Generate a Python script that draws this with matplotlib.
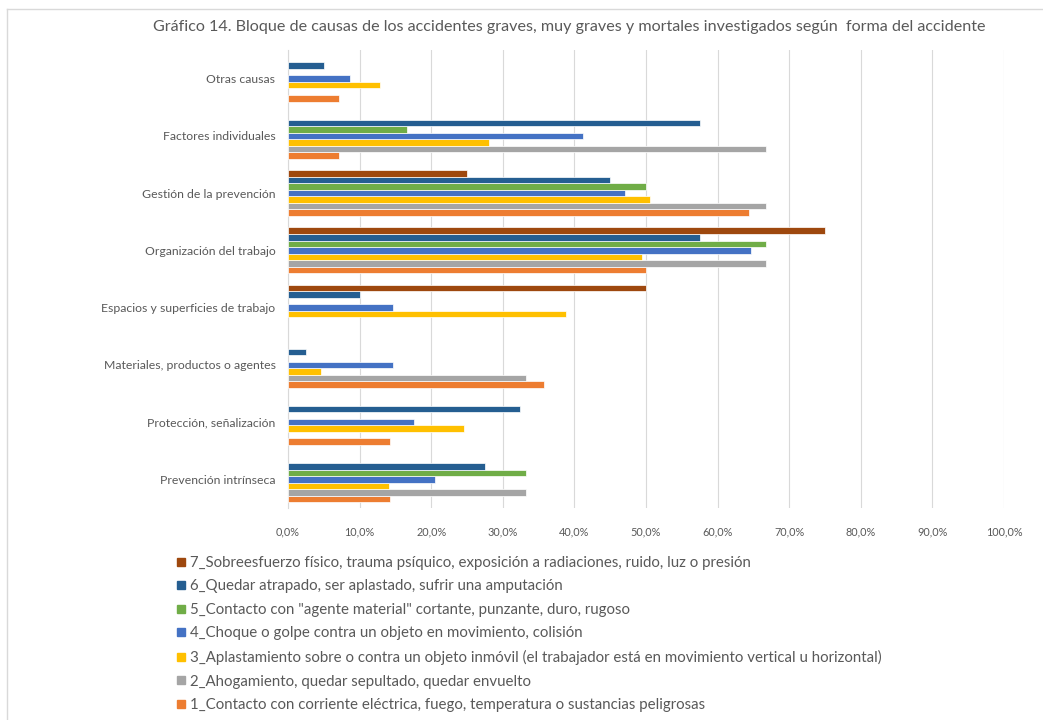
import numpy as np
import matplotlib
matplotlib.use("Agg")
import matplotlib.pyplot as plt
from matplotlib.lines import Line2D
from matplotlib.ticker import FuncFormatter

plt.rcParams['font.family'] = ['Lato', 'DejaVu Sans']

# categories, bottom to top as drawn
categorias = [
    "Prevención intrínseca",
    "Protección, señalización",
    "Materiales, productos o agentes",
    "Espacios y superficies de trabajo",
    "Organización del trabajo",
    "Gestión de la prevención",
    "Factores individuales",
    "Otras causas",
]

# percentage of accidents per block of causes, one list per accident form
forma_1 = [14.3, 14.3, 35.7, 0, 50.0, 64.4, 7.1, 7.1]
forma_2 = [33.3, 0, 33.3, 0, 66.7, 66.7, 66.7, 0]
forma_3 = [14.1, 24.6, 4.6, 38.8, 49.4, 50.6, 28.1, 12.8]
forma_4 = [20.6, 17.6, 14.7, 14.7, 64.7, 47.1, 41.2, 8.7]
forma_5 = [33.3, 0, 0, 0, 66.7, 50.0, 16.6, 0]
forma_6 = [27.5, 32.4, 2.5, 10.0, 57.5, 45.0, 57.5, 5.0]
forma_7 = [0, 0, 0, 50.0, 75.0, 25.0, 0, 0]

nombres = [
    "1_Contacto con corriente eléctrica, fuego, temperatura o sustancias peligrosas",
    "2_Ahogamiento, quedar sepultado, quedar envuelto",
    "3_Aplastamiento sobre o contra un objeto inmóvil (el trabajador está en movimiento vertical u horizontal)",
    "4_Choque o golpe contra un objeto en movimiento, colisión",
    "5_Contacto con \"agente material\" cortante, punzante, duro, rugoso",
    "6_Quedar atrapado, ser aplastado, sufrir una amputación",
    "7_Sobreesfuerzo físico, trauma psíquico, exposición a radiaciones, ruido, luz o presión",
]
colores = ["#ED7D31", "#A5A5A5", "#FFC000", "#4472C4", "#70AD47", "#255E91", "#9E480E"]
series = [forma_1, forma_2, forma_3, forma_4, forma_5, forma_6, forma_7]

fig = plt.figure(figsize=(10.43, 7.2), dpi=100)
ax = fig.add_axes([288/1043, 1 - 508/720, 716/1043, 458/720])

y = np.arange(len(categorias))
h = 0.8 / 7
for k, (vals, col) in enumerate(zip(series, colores)):
    v = np.array(vals, dtype=float)
    v[v == 0] = np.nan  # empty slots stay empty
    ax.barh(y + (k - 3) * h, v, height=h, color=col,
            edgecolor="white", linewidth=0.5, zorder=3)

ax.set_xlim(0, 100)
ax.set_ylim(-0.5, len(categorias) - 0.5)
ax.set_xticks(np.arange(0, 101, 10))
ax.xaxis.set_major_formatter(FuncFormatter(lambda v, p: f"{v:.1f}%".replace(".", ",")))
ax.set_yticks(y)
ax.set_yticklabels(categorias)
ax.tick_params(axis="both", length=0, colors="#595959")
ax.tick_params(axis="x", labelsize=7.8, pad=13)
ax.tick_params(axis="y", labelsize=8.8, pad=9)
ax.grid(axis="x", color="#D9D9D9", linewidth=0.8, zorder=0)
for s in ["top", "right", "bottom"]:
    ax.spines[s].set_visible(False)
ax.spines["left"].set_color("#D9D9D9")

fig.text(569/1043, 1 - 27/720,
         "Gráfico 14. Bloque de causas de los accidentes graves, muy graves y mortales investigados según  forma del accidente",
         ha="center", va="center", fontsize=11.6, color="#595959")

handles = [Line2D([], [], marker="s", linestyle="none", markersize=6,
                  markerfacecolor=c, markeredgecolor=c) for c in colores[::-1]]
fig.legend(handles, nombres[::-1], loc="upper left",
           bbox_to_anchor=(177/1043, 1 - 556/720), frameon=False,
           fontsize=10.85, labelcolor="#595959", handlelength=0.55,
           handletextpad=0.3, labelspacing=0.63, borderpad=0, borderaxespad=0)

# chart frame
fig.add_artist(Line2D([7/1043, 7/1043], [0, 1 - 9/720], color="#D9D9D9", linewidth=1))
fig.add_artist(Line2D([7/1043, 1], [1 - 9/720, 1 - 9/720], color="#D9D9D9", linewidth=1))

fig.savefig("out.png", dpi=100)
